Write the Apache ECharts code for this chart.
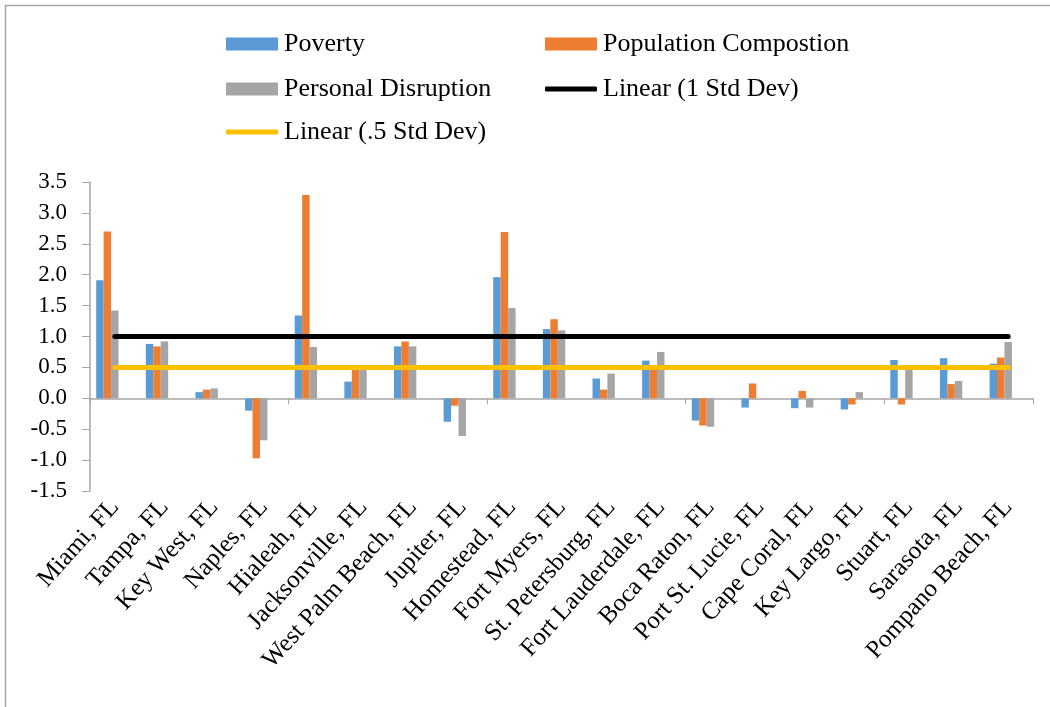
<!DOCTYPE html>
<html><head><meta charset="utf-8">
<script src="https://cdn.jsdelivr.net/npm/echarts@6/dist/echarts.min.js"></script>
<style>html,body{margin:0;padding:0;background:#fff}#c{width:1050px;height:707px}</style>
</head><body><div id="c"></div>
<script>
const categories = ["Miami, FL","Tampa, FL","Key West, FL","Naples, FL","Hialeah, FL","Jacksonville, FL","West Palm Beach, FL","Jupiter, FL","Homestead, FL","Fort Myers, FL","St. Petersburg, FL","Fort Lauderdale, FL","Boca Raton, FL","Port St. Lucie, FL","Cape Coral, FL","Key Largo, FL","Stuart, FL","Sarasota, FL","Pompano Beach, FL"];
const poverty = [1.91,0.88,0.10,-0.20,1.34,0.27,0.84,-0.38,1.96,1.12,0.32,0.61,-0.36,-0.15,-0.16,-0.18,0.62,0.65,0.56];
const populationComposition = [2.70,0.84,0.14,-0.97,3.29,0.48,0.92,-0.12,2.69,1.28,0.14,0.50,-0.44,0.24,0.12,-0.10,-0.10,0.23,0.66];
const personalDisruption = [1.42,0.92,0.16,-0.68,0.83,0.47,0.84,-0.61,1.46,1.10,0.40,0.75,-0.46,0.00,-0.15,0.10,0.48,0.28,0.91];
const oneStdDev = [1,1,1,1,1,1,1,1,1,1,1,1,1,1,1,1,1,1,1];
const halfStdDev = [0.5,0.5,0.5,0.5,0.5,0.5,0.5,0.5,0.5,0.5,0.5,0.5,0.5,0.5,0.5,0.5,0.5,0.5,0.5];
const emptySlot = ['-','-','-','-','-','-','-','-','-','-','-','-','-','-','-','-','-','-','-'];

const FONT = '"Liberation Serif","Times New Roman",serif';
const AX = '#A6A6A6';
const chart = echarts.init(document.getElementById('c'), null, {renderer:'canvas'});
function leg(name, left, cy, icon, h) {
  return {
    data:[{name:name, icon:icon}], left:left, top:cy-13, padding:0,
    itemWidth:52, itemHeight:h, itemGap:0, selectedMode:false,
    textStyle:{fontFamily:FONT, fontSize:26, color:'#000', lineHeight:26, padding:[0,0,0,1]}
  };
}
chart.setOption({
  animation:false,
  backgroundColor:'#fff',
  graphic:[{type:'rect', shape:{x:5.5,y:5.5,width:1100,height:800}, style:{fill:null, stroke:'#A6A6A6', lineWidth:1.5}, silent:true, z:-1}],
  legend:[
    leg('Poverty',226,44,'rect',13),
    leg('Population Compostion',545,44,'rect',13),
    leg('Personal Disruption',226,89,'rect',13),
    leg('Linear (1 Std Dev)',545,89,'roundRect',5),
    leg('Linear (.5 Std Dev)',226,132,'roundRect',5)
  ],
  grid:{left:90, right:17, top:182, bottom:216, containLabel:false},
  xAxis:[
    {type:'category', data:categories, position:'bottom',
     axisLine:{onZero:true, lineStyle:{color:AX, width:1.5}},
     axisTick:{show:true, length:6, lineStyle:{color:AX}, alignWithLabel:false},
     axisLabel:{show:false}, splitLine:{show:false}},
    {type:'category', data:categories, position:'bottom', gridIndex:0,
     axisLine:{show:false, onZero:false}, axisTick:{show:false},
     axisLabel:{rotate:48, margin:12, fontFamily:FONT, fontSize:25, color:'#000', interval:0}}
  ],
  yAxis:{type:'value', min:-1.5, max:3.5, interval:0.5,
     axisLine:{show:true, lineStyle:{color:AX, width:1.5}},
     axisTick:{show:true, length:8, lineStyle:{color:AX}},
     splitLine:{show:false},
     axisLabel:{margin:23, fontFamily:FONT, fontSize:23, color:'#000', formatter:v=>v.toFixed(1)}},
  series:[
    {name:'Poverty', type:'bar', data:poverty, barWidth:7.45, barGap:'0%', itemStyle:{color:'#5B9BD5'}},
    {name:'Population Compostion', type:'bar', data:populationComposition, barWidth:7.45, barGap:'0%', itemStyle:{color:'#ED7D31'}},
    {name:'Personal Disruption', type:'bar', data:personalDisruption, barWidth:7.45, barGap:'0%', itemStyle:{color:'#A5A5A5'}},
    {name:'slot4', type:'bar', data:emptySlot, barWidth:7.45, barGap:'0%'},
    {name:'slot5', type:'bar', data:emptySlot, barWidth:7.45, barGap:'0%'},
    {name:'Linear (1 Std Dev)', type:'line', data:oneStdDev, symbol:'none', z:5,
     lineStyle:{color:'#000', width:5, cap:'round'}, itemStyle:{color:'#000'}},
    {name:'Linear (.5 Std Dev)', type:'line', data:halfStdDev, symbol:'none', z:5,
     lineStyle:{color:'#FFC000', width:5, cap:'round'}, itemStyle:{color:'#FFC000'}}
  ]
});
</script></body></html>
